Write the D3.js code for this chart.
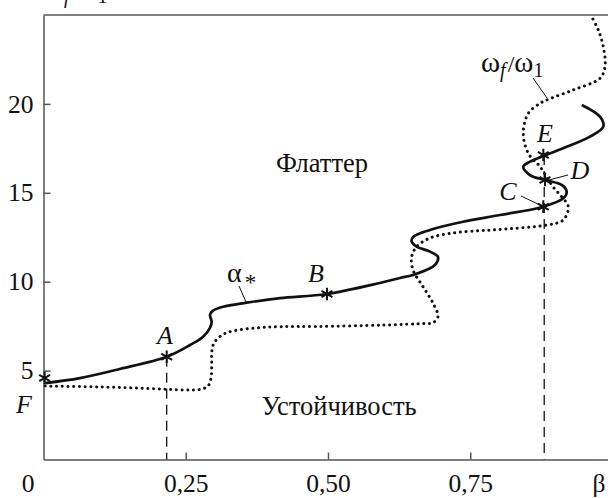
<!DOCTYPE html>
<html>
<head>
<meta charset="utf-8">
<script src="https://cdn.jsdelivr.net/npm/d3@7"></script>
<style>
  body { margin: 0; background: #fff; }
  svg { display: block; }
  .axis path, .axis line { stroke: #555; stroke-width: 1.5; }
</style>
</head>
<body>
<svg class="chart" width="608" height="498"></svg>
<script>
// alpha_* (solid curve)
var alphaBeta = [0.003, 0.064, 0.134, 0.2165, 0.2575, 0.280, 0.2926, 0.2956, 0.2926, 0.2979, 0.3155, 0.357, 0.4156, 0.4982, 0.5914, 0.6265, 0.6494, 0.688, 0.6933, 0.6793, 0.6559, 0.6471, 0.6494, 0.6793, 0.7373, 0.8023, 0.8784, 0.9135, 0.9195, 0.9107, 0.8814, 0.855, 0.8432, 0.855, 0.8784, 0.9195, 0.9605, 0.9838, 0.978, 0.9459]
var alphaVal = [4.30, 4.58, 5.09, 5.78, 6.44, 6.89, 7.40, 7.75, 8.13, 8.37, 8.59, 8.82, 9.08, 9.31, 9.93, 10.21, 10.38, 10.94, 11.39, 11.69, 11.97, 12.25, 12.51, 12.91, 13.37, 13.75, 14.22, 14.69, 15.06, 15.44, 15.72, 16.0, 16.47, 16.75, 17.07, 17.59, 18.16, 18.72, 19.28, 19.94]

// omega_f / omega_1 (dotted curve)
var omegaBeta = [0.003, 0.0993, 0.1872, 0.2487, 0.275, 0.2891, 0.2944, 0.2956, 0.2956, 0.2996, 0.3137, 0.333, 0.3747, 0.4156, 0.4801, 0.5967, 0.6705, 0.6845, 0.6933, 0.6845, 0.667, 0.6494, 0.6471, 0.6559, 0.6793, 0.7197, 0.7671, 0.8023, 0.8844, 0.9135, 0.9223, 0.9107, 0.8954, 0.8726, 0.852, 0.8432, 0.852, 0.8726, 0.8844, 0.9306, 0.978, 0.9868, 0.9838, 0.975, 0.9635]
var omegaVal = [4.13, 4.08, 3.99, 3.91, 3.94, 4.13, 4.58, 5.31, 5.99, 6.55, 7.00, 7.23, 7.40, 7.47, 7.48, 7.56, 7.65, 7.69, 8.03, 8.80, 9.72, 10.66, 11.41, 11.97, 12.46, 12.74, 12.87, 12.94, 13.19, 13.47, 14.22, 14.78, 15.34, 16.47, 17.22, 18.35, 19.47, 20.03, 20.22, 20.78, 21.44, 22.09, 23.22, 24.16, 24.9]

// marked points
var starNames = ['F', 'A', 'B', 'C', 'D', 'E']
var starBeta = [0.002, 0.2165, 0.4982, 0.8784, 0.8814, 0.8784]
var starVal = [4.58, 5.78, 9.31, 14.22, 15.72, 17.13]

var xTicks = [0.25, 0.5, 0.75]
var yTicks = [5, 10, 15, 20]

const serif = '"Liberation Serif"'
const svg = d3.select('.chart')
const x = d3.scaleLinear().domain([0, 1]).range([43.5, 612.5])
const y = d3.scaleLinear().domain([0, 25]).range([459.5, 15])

// frame top line
svg.append('line')
  .attr('x1', x(0)).attr('x2', 608)
  .attr('y1', y(25)).attr('y2', y(25))
  .attr('stroke', '#555').attr('stroke-width', 1.5)

// axes
svg.append('g')
  .attr('class', 'axis')
  .attr('transform', `translate(0, ${y(0)})`)
  .call(d3.axisBottom(x).tickValues(xTicks).tickSize(-7).tickSizeOuter(0).tickPadding(14)
    .tickFormat(d => d.toFixed(2).replace('.', ',')))

svg.append('g')
  .attr('class', 'axis')
  .attr('transform', `translate(${x(0)}, 0)`)
  .call(d3.axisLeft(y).tickValues(yTicks).tickSize(-7).tickSizeOuter(0).tickPadding(10))

svg.selectAll('.axis text').style('font-size', '25.5px').attr('fill', '#111')

svg.append('text').attr('x', 28).attr('y', 491.5).attr('text-anchor', 'middle')
  .style('font-size', '25.5px').text('0')
svg.append('text').attr('x', 599).attr('y', 491.5).attr('text-anchor', 'middle')
  .style('font-size', '25.5px').text('β')

// dashed verticals at A and at C/D/E
function vDash(b, v) {
  svg.append('line')
    .attr('x1', x(b)).attr('x2', x(b))
    .attr('y1', y(v)).attr('y2', y(0))
    .attr('stroke', '#111').attr('stroke-width', 1.3)
    .attr('stroke-dasharray', '10,6')
}
vDash(starBeta[1], starVal[1])
vDash(0.88, starVal[5])

var line = d3.line()
  .x(d => x(d[0]))
  .y(d => y(d[1]))
  .curve(d3.curveCatmullRom.alpha(0.5))

svg.append('path')
  .datum(omegaBeta.map((b, i) => [b, omegaVal[i]]))
  .attr('d', line)
  .attr('fill', 'none')
  .attr('stroke', '#111')
  .attr('stroke-width', 3)
  .attr('stroke-linecap', 'round')
  .attr('stroke-dasharray', '0.1,5.6')

svg.append('path')
  .datum(alphaBeta.map((b, i) => [b, alphaVal[i]]))
  .attr('d', line)
  .attr('fill', 'none')
  .attr('stroke', '#111')
  .attr('stroke-width', 2.7)

// asterisks
var r = 6.3
svg.selectAll('.star')
  .data(starNames)
  .enter()
  .append('path')
  .attr('class', 'star')
  .attr('transform', (d, i) => `translate(${x(starBeta[i])}, ${y(starVal[i])})`)
  .attr('d', function() {
    var s = ''
    ;[90, 30, 150].forEach(function(a) {
      var dx = r * Math.cos(a * Math.PI / 180)
      var dy = r * Math.sin(a * Math.PI / 180)
      s += `M${-dx},${-dy}L${dx},${dy}`
    })
    return s
  })
  .attr('stroke', '#111')
  .attr('stroke-width', 2)

// point letters
var letterPos = [[24, 413], [165, 344], [316, 282], [508, 200], [580, 179], [545, 142]]
svg.selectAll('.letter')
  .data(starNames)
  .enter()
  .append('text')
  .attr('class', 'letter')
  .attr('x', (d, i) => letterPos[i][0])
  .attr('y', (d, i) => letterPos[i][1])
  .attr('text-anchor', 'middle')
  .style('font-size', '26px')
  .style('font-style', 'italic')
  .text(d => d)

// leader lines
function leader(x1, y1, x2, y2) {
  svg.append('line')
    .attr('x1', x1).attr('y1', y1).attr('x2', x2).attr('y2', y2)
    .attr('stroke', '#111').attr('stroke-width', 1)
}
leader(239, 286, 246, 302)
leader(533, 78, 547, 98)
leader(521, 196, 540, 205)
leader(568, 175, 549, 180)

// ω_f/ω_1 label
function omegaLabel(x0, y0) {
  var t = svg.append('text').attr('x', x0).attr('y', y0).style('font-size', '29px')
  t.append('tspan').text('ω')
  t.append('tspan').attr('dy', 5).style('font-size', '20px').style('font-style', 'italic').text('f')
  t.append('tspan').attr('dx', 2).attr('dy', -5).style('font-size', '24px').text('/')
  t.append('tspan').text('ω')
  t.append('tspan').attr('dy', 5).style('font-size', '20px').text('1')
}
omegaLabel(481, 72)
omegaLabel(45, -2)

// α_* label
var al = svg.append('text').attr('x', 227).attr('y', 282).style('font-size', '28px')
al.append('tspan').text('α')
al.append('tspan').attr('dx', 3).attr('dy', 8).style('font-size', '23px').text('*')

// region names
svg.append('text').attr('x', 322).attr('y', 172).attr('text-anchor', 'middle')
  .style('font-size', '26.5px').text('Флаттер')
svg.append('text').attr('x', 339).attr('y', 415).attr('text-anchor', 'middle')
  .style('font-size', '26.5px').text('Устойчивость')

svg.selectAll('text').style('font-family', serif).attr('fill', '#111')
</script>
</body>
</html>
